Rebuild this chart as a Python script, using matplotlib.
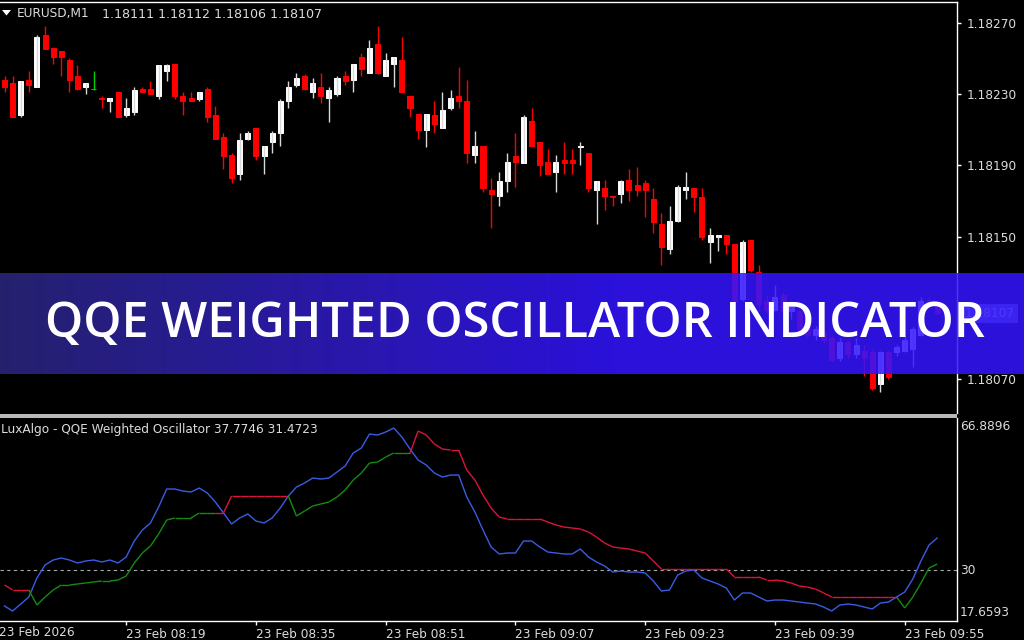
import numpy as np
import pandas as pd
import matplotlib
matplotlib.use("Agg")
import matplotlib.pyplot as plt
from matplotlib.collections import LineCollection
from matplotlib.patches import Rectangle, Polygon

W, H = 1024, 640

# EURUSD M1 candles, 08:04 .. 09:59
open_ = [1.18238, 1.18236, 1.18218, 1.18238, 1.18234, 1.18263, 1.18256, 1.18254, 1.18249, 1.18240,
         1.18234, 1.18233, 1.18228, 1.18226, 1.18231, 1.18218, 1.18220, 1.18233, 1.18233, 1.18229,
         1.18243, 1.18247, 1.18229, 1.18228, 1.18227, 1.18233, 1.18218, 1.18206, 1.18196, 1.18185,
         1.18205, 1.18211, 1.18195, 1.18203, 1.18208, 1.18226, 1.18235, 1.18240, 1.18231, 1.18234,
         1.18228, 1.18230, 1.18240, 1.18238, 1.18251, 1.18242, 1.18258, 1.18240, 1.18247, 1.18249,
         1.18229, 1.18219, 1.18210, 1.18218, 1.18211, 1.18222, 1.18229, 1.18226, 1.18196, 1.18201,
         1.18176, 1.18173, 1.18181, 1.18195, 1.18191, 1.18215, 1.18203, 1.18192, 1.18186, 1.18193,
         1.18193, 1.18200, 1.18197, 1.18176, 1.18177, 1.18173, 1.18174, 1.18182, 1.18179, 1.18180,
         1.18171, 1.18157, 1.18143, 1.18159, 1.18176, 1.18177, 1.18172, 1.18147, 1.18150, 1.18151,
         1.18146, 1.18115, 1.18148, 1.18130, 1.18114, 1.18109, 1.18117, 1.18108, 1.18108, 1.18100,
         1.18095, 1.18096, 1.18093, 1.18082, 1.18091, 1.18084, 1.18086, 1.18085, 1.18067, 1.18085,
         1.18085, 1.18086, 1.18087, 1.18095, 1.18114, 1.18111]
high = [1.18240, 1.18240, 1.18237, 1.18243, 1.18263, 1.18268, 1.18256, 1.18254, 1.18250, 1.18246,
        1.18236, 1.18243, 1.18229, 1.18228, 1.18231, 1.18228, 1.18234, 1.18234, 1.18237, 1.18246,
        1.18247, 1.18247, 1.18231, 1.18231, 1.18231, 1.18234, 1.18223, 1.18208, 1.18197, 1.18208,
        1.18209, 1.18211, 1.18201, 1.18209, 1.18227, 1.18237, 1.18242, 1.18241, 1.18239, 1.18242,
        1.18234, 1.18240, 1.18243, 1.18247, 1.18253, 1.18260, 1.18268, 1.18253, 1.18251, 1.18262,
        1.18229, 1.18219, 1.18219, 1.18226, 1.18231, 1.18232, 1.18245, 1.18238, 1.18209, 1.18201,
        1.18183, 1.18186, 1.18197, 1.18208, 1.18218, 1.18222, 1.18203, 1.18199, 1.18196, 1.18203,
        1.18199, 1.18203, 1.18197, 1.18181, 1.18182, 1.18173, 1.18182, 1.18188, 1.18189, 1.18182,
        1.18177, 1.18163, 1.18167, 1.18179, 1.18186, 1.18177, 1.18177, 1.18155, 1.18151, 1.18151,
        1.18146, 1.18148, 1.18148, 1.18134, 1.18117, 1.18123, 1.18119, 1.18114, 1.18110, 1.18103,
        1.18100, 1.18098, 1.18094, 1.18093, 1.18092, 1.18093, 1.18089, 1.18087, 1.18086, 1.18086,
        1.18089, 1.18094, 1.18099, 1.18116, 1.18116, 1.18112]
low = [1.18231, 1.18217, 1.18217, 1.18231, 1.18234, 1.18255, 1.18247, 1.18240, 1.18231, 1.18232,
       1.18230, 1.18232, 1.18222, 1.18220, 1.18217, 1.18217, 1.18218, 1.18231, 1.18230, 1.18227,
       1.18237, 1.18227, 1.18218, 1.18226, 1.18226, 1.18214, 1.18205, 1.18188, 1.18180, 1.18182,
       1.18204, 1.18193, 1.18185, 1.18197, 1.18201, 1.18222, 1.18234, 1.18232, 1.18228, 1.18225,
       1.18214, 1.18229, 1.18235, 1.18231, 1.18240, 1.18242, 1.18241, 1.18240, 1.18234, 1.18231,
       1.18217, 1.18205, 1.18200, 1.18208, 1.18211, 1.18221, 1.18222, 1.18191, 1.18191, 1.18175,
       1.18155, 1.18167, 1.18175, 1.18178, 1.18191, 1.18201, 1.18184, 1.18185, 1.18175, 1.18185,
       1.18185, 1.18190, 1.18175, 1.18157, 1.18165, 1.18167, 1.18169, 1.18170, 1.18173, 1.18161,
       1.18152, 1.18134, 1.18140, 1.18158, 1.18171, 1.18164, 1.18148, 1.18135, 1.18142, 1.18140,
       1.18113, 1.18114, 1.18130, 1.18108, 1.18107, 1.18108, 1.18106, 1.18104, 1.18096, 1.18093,
       1.18092, 1.18090, 1.18080, 1.18080, 1.18082, 1.18082, 1.18072, 1.18064, 1.18063, 1.18070,
       1.18083, 1.18085, 1.18077, 1.18094, 1.18110, 1.18106]
close = [1.18234, 1.18217, 1.18237, 1.18235, 1.18262, 1.18255, 1.18251, 1.18251, 1.18238, 1.18233,
         1.18236, 1.18233, 1.18227, 1.18228, 1.18217, 1.18222, 1.18232, 1.18231, 1.18230, 1.18246,
         1.18246, 1.18229, 1.18226, 1.18226, 1.18231, 1.18217, 1.18205, 1.18195, 1.18183, 1.18204,
         1.18208, 1.18195, 1.18201, 1.18208, 1.18226, 1.18234, 1.18239, 1.18233, 1.18236, 1.18229,
         1.18232, 1.18239, 1.18237, 1.18247, 1.18244, 1.18256, 1.18242, 1.18249, 1.18251, 1.18231,
         1.18222, 1.18210, 1.18219, 1.18213, 1.18221, 1.18228, 1.18226, 1.18197, 1.18201, 1.18177,
         1.18174, 1.18181, 1.18192, 1.18192, 1.18217, 1.18201, 1.18190, 1.18185, 1.18192, 1.18191,
         1.18191, 1.18201, 1.18177, 1.18181, 1.18173, 1.18172, 1.18181, 1.18176, 1.18176, 1.18176,
         1.18158, 1.18144, 1.18159, 1.18178, 1.18178, 1.18172, 1.18150, 1.18151, 1.18151, 1.18146,
         1.18114, 1.18147, 1.18131, 1.18112, 1.18109, 1.18116, 1.18108, 1.18112, 1.18098, 1.18095,
         1.18098, 1.18092, 1.18081, 1.18091, 1.18084, 1.18089, 1.18082, 1.18065, 1.18085, 1.18071,
         1.18088, 1.18092, 1.18098, 1.18114, 1.18111, 1.18107]

# QQE weighted oscillator: main line and trailing level
qqe_line = [21.30, 20.08, 21.78, 23.48, 28.09, 31.24, 32.45, 32.94, 32.45, 31.72,
            32.21, 32.45, 31.97, 32.45, 31.72, 33.18, 37.06, 39.73, 41.42, 45.30,
            49.67, 49.67, 49.18, 48.94, 49.91, 48.70, 46.52, 43.85, 41.18, 42.64,
            43.61, 41.91, 41.42, 42.64, 45.06, 47.97, 50.15, 51.12, 52.33, 52.09,
            52.33, 53.79, 55.24, 58.40, 59.61, 63.00, 62.76, 63.49, 64.46, 62.28,
            59.37, 56.70, 55.49, 53.55, 52.58, 53.06, 53.06, 47.73, 44.09, 39.73,
            35.60, 33.91, 34.15, 34.15, 37.06, 37.06, 35.60, 34.39, 34.15, 33.91,
            33.91, 35.12, 33.18, 31.97, 31.00, 29.54, 29.78, 29.54, 29.54, 29.30,
            27.36, 24.93, 25.18, 28.81, 29.78, 30.03, 28.09, 27.36, 26.63, 25.66,
            22.75, 24.45, 24.45, 23.48, 22.51, 22.75, 22.75, 22.51, 22.27, 22.02,
            21.78, 21.05, 20.08, 21.54, 21.78, 21.54, 21.05, 20.57, 22.02, 22.27,
            23.48, 24.69, 27.84, 32.21, 36.09, 37.7746]
trail_line = [26.39, 25.18, 25.18, 25.18, 21.54, 23.48, 25.18, 26.39, 26.39, 26.63,
              26.87, 27.12, 27.36, 27.36, 27.60, 28.57, 31.72, 34.15, 35.85, 38.76,
              42.15, 42.64, 42.64, 42.64, 43.85, 43.85, 43.85, 43.85, 47.97, 47.97,
              47.97, 47.97, 47.97, 47.97, 47.97, 47.97, 43.12, 44.33, 45.55, 46.03,
              46.52, 47.73, 49.42, 51.85, 53.55, 55.97, 56.21, 57.43, 58.40, 58.40,
              58.40, 63.73, 62.76, 60.58, 59.37, 59.12, 59.12, 54.27, 51.85, 48.21,
              45.06, 42.88, 42.39, 42.39, 42.39, 42.39, 42.39, 41.67, 40.94, 40.45,
              40.21, 39.97, 39.24, 38.03, 36.57, 35.60, 35.36, 35.12, 34.63, 34.15,
              32.21, 30.27, 30.27, 30.27, 30.27, 30.27, 30.27, 30.27, 30.27, 30.27,
              28.33, 28.33, 28.33, 28.33, 27.60, 27.60, 27.36, 26.87, 26.15, 25.90,
              25.42, 24.45, 23.48, 23.48, 23.48, 23.48, 23.48, 23.48, 23.48, 23.48,
              23.48, 20.81, 23.48, 26.87, 30.51, 31.4723]

osc_min, osc_max, osc_level = 17.6593, 66.8896, 30
price_ticks = [1.18270, 1.18230, 1.18190, 1.18150, 1.18070]
time_ticks = ["08:19", "08:35", "08:51", "09:07", "09:23", "09:39", "09:55"]

times = pd.date_range("2026-02-23 08:04", periods=len(open_), freq="min")
x = np.arange(len(open_))
o, hi, lo, c = map(np.array, (open_, high, low, close))


def fx(px):
    return px / W


def fy(py):
    return 1 - py / H


TXT = "#dcdcdc"
FONT = "DejaVu Sans"

fig = plt.figure(figsize=(W / 100, H / 100), dpi=100, facecolor="black")

bar_px = 8.11
xlim = (-4.5 / bar_px, (957 - 4.5) / bar_px)

# ── price panel ──────────────────────────────────────────────────────────────
ax = fig.add_axes([0, fy(413), fx(957), (413 - 2) / H], facecolor="black")
up = c > o + 1e-9
dn = c < o - 1e-9
body_col = np.where(up, "#ffffff", np.where(dn, "#ff0000", "#00d000"))
wick_col = np.where(up, "#d8d8d8", np.where(dn, "#ff0000", "#00d000"))
ax.vlines(x, lo, hi, colors=wick_col, linewidth=1.0)
ax.bar(x, np.abs(c - o), bottom=np.minimum(o, c), width=0.62,
       color=body_col, edgecolor=body_col, linewidth=0.7)
ax.set_xlim(*xlim)
ax.set_ylim(1.18051, 1.182816)
ax.set_xticks([])
ax.yaxis.tick_right()
ax.set_yticks(price_ticks)
ax.set_yticklabels([f"{p:.5f}" for p in price_ticks], fontsize=8.7, family=FONT, color=TXT)
ax.tick_params(axis="y", length=3, width=1, color="white", pad=4)
for s in ("left", "bottom"):
    ax.spines[s].set_visible(False)
for s in ("top", "right"):
    ax.spines[s].set_color("white")
    ax.spines[s].set_linewidth(1)

# current price label on the price scale
ax.text(1.008, close[-1], f"{close[-1]:.5f}", transform=ax.get_yaxis_transform(),
        fontsize=8.7, family=FONT, color="white", va="center", ha="left", clip_on=False,
        bbox=dict(boxstyle="square,pad=0.25", facecolor="#778899", edgecolor="none"))

# ── oscillator panel ─────────────────────────────────────────────────────────
ax2 = fig.add_axes([0, fy(621), fx(957), (621 - 418) / H], facecolor="black")
ax2.axhline(osc_level, color="#a8a8a8", linewidth=0.8, linestyle=(0, (3, 3)))
ax2.plot(x, qqe_line, color="#3a5ce4", linewidth=1.0)
q = np.array(qqe_line)
t = np.array(trail_line)
segs = [[(x[i - 1], t[i - 1]), (x[i], t[i])] for i in range(1, len(t))]
seg_col = ["#148c14" if q[i] > t[i] + 1e-9 else "#dc143c" for i in range(1, len(t))]
ax2.add_collection(LineCollection(segs, colors=seg_col, linewidths=1.0))
ax2.set_xlim(*xlim)
ax2.set_ylim(osc_min, osc_max)
ax2.set_yticks([])
tick_idx = [int(np.where(times.strftime("%H:%M") == s)[0][0]) for s in time_ticks]
ax2.set_xticks(tick_idx)
ax2.set_xticklabels([f"23 Feb {s}" for s in time_ticks], ha="left",
                    fontsize=8.7, family=FONT, color=TXT)
ax2.tick_params(axis="x", length=3, width=1, color="white", pad=2)
for s in ("left", "top"):
    ax2.spines[s].set_visible(False)
for s in ("bottom", "right"):
    ax2.spines[s].set_color("white")
    ax2.spines[s].set_linewidth(1)

# panel separator
fig.patches.append(Rectangle((0, fy(417.5)), fx(957), 3.5 / H, transform=fig.transFigure,
                             facecolor="#b8b8b8", edgecolor="none"))

# ── MT4 texts ────────────────────────────────────────────────────────────────
fig.patches.append(Polygon([(fx(2), fy(10)), (fx(11), fy(10)), (fx(6.5), fy(15.5))],
                           closed=True, transform=fig.transFigure,
                           facecolor="white", edgecolor="none"))
fig.text(fx(17), fy(14), "EURUSD,M1", fontsize=8.7, family=FONT, color=TXT, va="center")
fig.text(fx(102), fy(14), f"{o[-1]:.5f} {hi[-1]:.5f} {lo[-1]:.5f} {c[-1]:.5f}",
         fontsize=9.1, family=FONT, color=TXT, va="center")
fig.text(fx(1), fy(430), f"LuxAlgo - QQE Weighted Oscillator {qqe_line[-1]:.4f} {trail_line[-1]:.4f}",
         fontsize=8.7, family=FONT, color=TXT, va="center")
fig.text(fx(960), fy(427), f"{osc_max:.4f}", fontsize=8.7, family=FONT, color=TXT, va="center")
fig.text(fx(960), fy(570), f"{osc_level}", fontsize=8.7, family=FONT, color=TXT, va="center")
fig.text(fx(960), fy(612), f"{osc_min:.4f}", fontsize=8.7, family=FONT, color=TXT, va="center")
fig.text(fx(-1), fy(633), "23 Feb 2026", fontsize=8.7, family=FONT, color=TXT, va="center")

# ── banner overlay ───────────────────────────────────────────────────────────
bax = fig.add_axes([0, fy(374), 1, (374 - 273) / H], zorder=5)
left_rgb = np.array([0x2c, 0x27, 0x80]) / 255
right_rgb = np.array([0x33, 0x14, 0xff]) / 255
ramp = np.clip(np.linspace(0, 1, 512) / 0.6, 0, 1)[None, :, None]
grad = left_rgb * (1 - ramp) + right_rgb * ramp
rgba = np.concatenate([grad, np.full((1, 512, 1), 0.86)], axis=2)
bax.imshow(rgba, aspect="auto", extent=[0, 1, 0, 1])
bax.set_axis_off()
fig.text(fx(515), fy(337), "QQE WEIGHTED OSCILLATOR INDICATOR", ha="center", va="baseline",
         color="white", fontsize=35, family="Open Sans", weight="semibold", zorder=6)

fig.savefig("out.png", dpi=100, facecolor="black")
